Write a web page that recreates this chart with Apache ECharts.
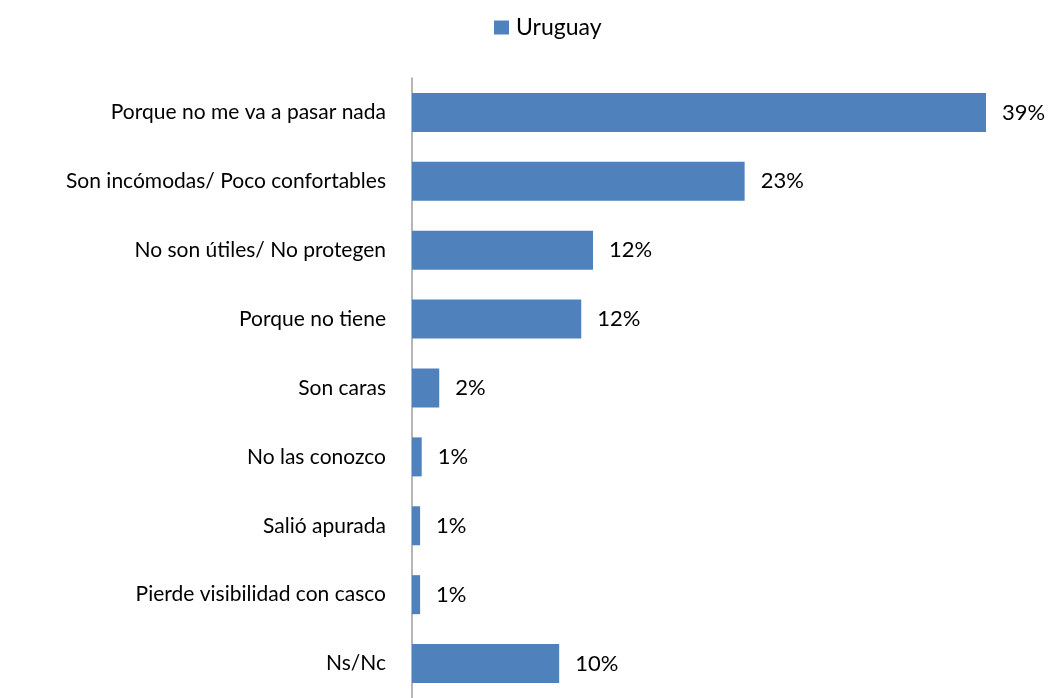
<!DOCTYPE html>
<html>
<head>
<meta charset="utf-8">
<script src="https://cdn.jsdelivr.net/npm/echarts@6/dist/echarts.min.js"></script>
<style>html,body{margin:0;padding:0;background:#fff}#c{width:1050px;height:698px}</style>
</head>
<body>
<div id="c"></div>
<script>
var categories = ["Porque no me va a pasar nada","Son incómodas/ Poco confortables","No son útiles/ No protegen","Porque no tiene","Son caras","No las conozco","Salió apurada","Pierde visibilidad con casco","Ns/Nc"];
var seriesName = "Uruguay";
var values = [39, 22.6, 12.3, 11.5, 1.85, 0.66, 0.55, 0.55, 10.0];

var chart = echarts.init(document.getElementById('c'), null, {renderer:'canvas'});
chart.setOption({
  animation: false,
  textStyle: {fontFamily: 'Lato'},
  legend: {
    data: [seriesName],
    top: 11,
    left: 489,
    itemWidth: 15,
    itemHeight: 14,
    icon: 'rect',
    textStyle: {fontSize: 23, color: '#000', fontFamily: 'Lato', padding: [0,0,0,2]}
  },
  grid: {left: 412, right: 64, top: 78, bottom: -6, containLabel: false},
  xAxis: {
    type: 'value', min: 0, max: 39,
    show: false,
    splitLine: {show: false}
  },
  yAxis: {
    type: 'category',
    data: categories,
    inverse: true,
    axisLine: {show: true, lineStyle: {color: '#9e9e9e', width: 1.5}},
    axisTick: {show: false},
    axisLabel: {fontSize: 21, color: '#000', margin: 26, fontFamily: 'Lato'}
  },
  series: [{
    name: seriesName,
    type: 'bar',
    data: values,
    barWidth: 39,
    itemStyle: {color: '#4F81BD'},
    label: {
      show: true, position: 'right', distance: 16,
      fontSize: 22, color: '#000', fontFamily: 'Lato',
      formatter: function(p){ return Math.round(p.value) + '%'; }
    }
  }]
});
</script>
</body>
</html>
